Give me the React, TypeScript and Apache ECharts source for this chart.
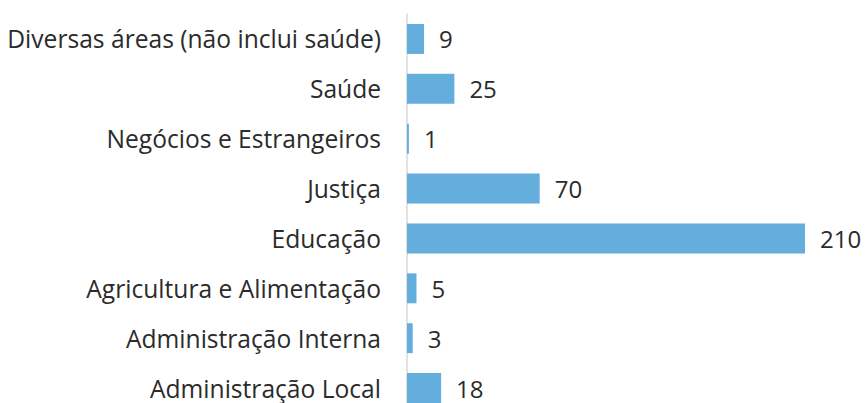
import React, { useEffect, useRef } from "react";
import * as echarts from "echarts";

const categories = [
  "Diversas áreas (não inclui saúde)",
  "Saúde",
  "Negócios e Estrangeiros",
  "Justiça",
  "Educação",
  "Agricultura e Alimentação",
  "Administração Interna",
  "Administração Local",
];
const values = [9, 25, 1, 70, 210, 5, 3, 18];

export default function App() {
  const ref = useRef<HTMLDivElement>(null);
  useEffect(() => {
    const chart = echarts.init(ref.current!, null, { renderer: "svg" });
    chart.setOption({
      animation: false,
      grid: { left: 407, right: 62, top: 14, bottom: 7, containLabel: false },
      xAxis: {
        type: "value",
        min: 0,
        max: 210,
        show: false,
      },
      yAxis: {
        type: "category",
        data: categories,
        inverse: true,
        axisLine: { show: true, lineStyle: { color: "#d9d9d9", width: 1.5 } },
        axisTick: { show: false },
        axisLabel: {
          margin: 26,
          fontFamily: "Open Sans",
          fontSize: 24.6,
          color: "#2b2b2b",
        },
      },
      series: [
        {
          type: "bar",
          data: values,
          barCategoryGap: "40%",
          itemStyle: { color: "#63AEDC" },
          label: {
            show: true,
            position: "right",
            distance: 15,
            fontFamily: "Open Sans",
            fontSize: 24,
            color: "#2b2b2b",
          },
        },
      ],
    });
    return () => chart.dispose();
  }, []);
  return (
    <div
      ref={ref}
      style={{ position: "absolute", left: 0, top: 0, width: 867, height: 420 }}
    />
  );
}
